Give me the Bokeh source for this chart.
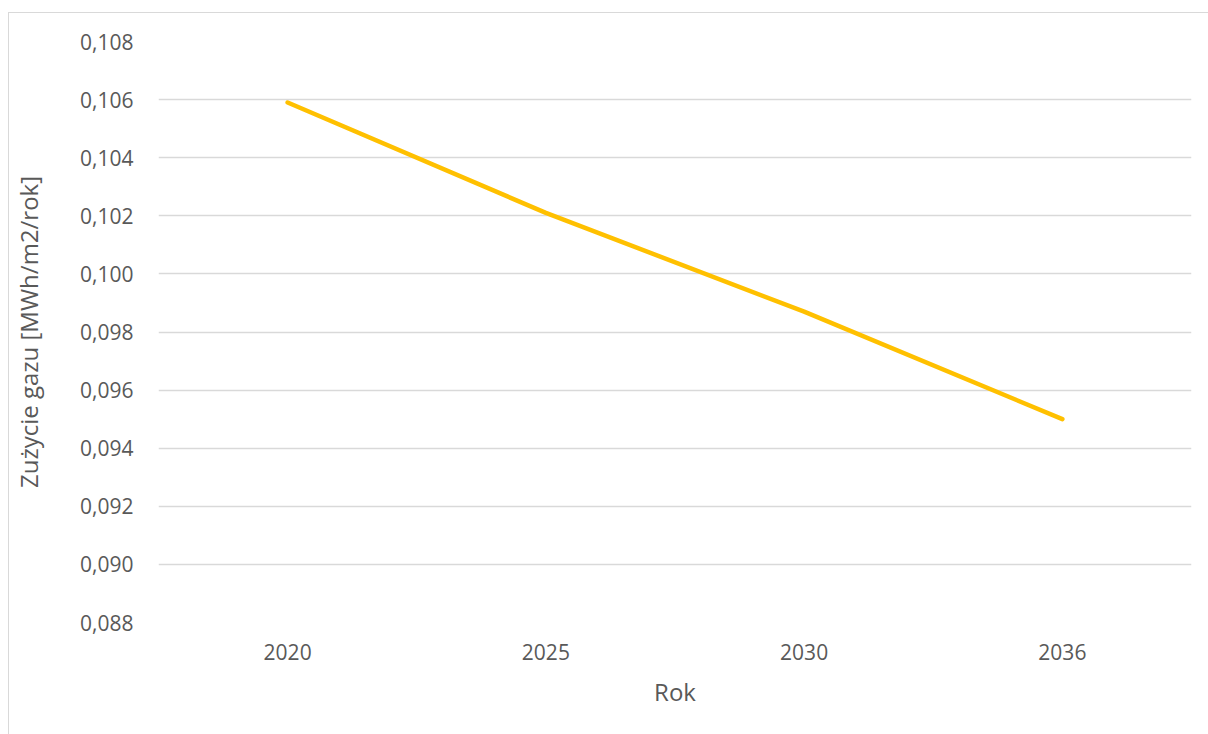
from bokeh.plotting import figure
from bokeh.models import ColumnDataSource, FactorRange, Range1d, CustomJSTickFormatter, FixedTicker
from bokeh.embed import file_html
from bokeh.resources import INLINE

years = ["2020", "2025", "2030", "2036"]
gas_use = [0.1059, 0.1021, 0.0987, 0.0950]
y_ticks = [0.088, 0.090, 0.092, 0.094, 0.096, 0.098, 0.100, 0.102, 0.104, 0.106, 0.108]

FONT = "Open Sans"
TXT = "#595959"

src = ColumnDataSource(dict(year=years, val=gas_use))

p = figure(width=1200, height=722, output_backend="svg", toolbar_location=None,
           x_range=FactorRange(*years, range_padding=0),
           y_range=Range1d(0.088, 0.108),
           min_border_left=149, min_border_right=18, min_border_top=28, min_border_bottom=113)
p.styles = {"margin-left": "8px", "margin-top": "12px",
            "border-left": "1px solid #d9d9d9", "border-top": "1px solid #d9d9d9",
            "box-sizing": "border-box"}
p.outline_line_color = None
p.background_fill_color = "white"

p.line("year", "val", source=src, line_color="#FFC000", line_width=4.5, line_cap="round", line_join="round")

p.yaxis.ticker = FixedTicker(ticks=y_ticks)
p.yaxis.formatter = CustomJSTickFormatter(code="return tick.toFixed(3).replace('.', ',');")
p.ygrid.ticker = FixedTicker(ticks=y_ticks)
p.ygrid.grid_line_color = "#d9d9d9"
p.ygrid.grid_line_width = 1.3
p.xgrid.grid_line_color = None

for ax in (p.xaxis, p.yaxis):
    ax.axis_line_color = None
    ax.major_tick_line_color = None
    ax.minor_tick_line_color = None
    ax.major_tick_in = 0
    ax.major_tick_out = 0
    ax.major_label_text_font = FONT
    ax.major_label_text_font_size = "21px"
    ax.major_label_text_color = TXT
    ax.axis_label_text_font = FONT
    ax.axis_label_text_font_size = "24px"
    ax.axis_label_text_font_style = "normal"
    ax.axis_label_text_color = TXT

p.yaxis.axis_label = "Zużycie gazu [MWh/m2/rok]"
p.yaxis.major_label_standoff = 25
p.yaxis.axis_label_standoff = 32
p.xaxis.axis_label = "Rok"
p.xaxis.major_label_standoff = 21
p.xaxis.axis_label_standoff = 12

open("out.html", "w").write(file_html(p, INLINE))
